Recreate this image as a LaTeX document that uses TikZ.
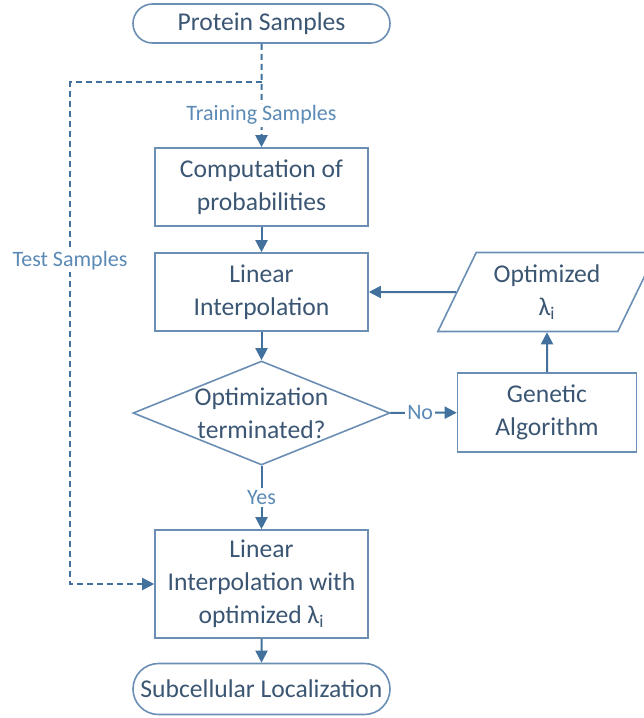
\documentclass[tikz,border=0pt]{standalone}
\usepackage{fontspec}
\setmainfont{Carlito}
\usetikzlibrary{arrows.meta,shapes.geometric,shapes.misc}
\definecolor{linecol}{HTML}{41719C}
\definecolor{boxcol}{HTML}{6A8EB4}
\definecolor{textcol}{HTML}{3B5673}
\definecolor{labelcol}{HTML}{5B8AB6}

\begin{document}
\begin{tikzpicture}[x=0.5pt,y=-0.5pt,
  every node/.style={font=\fontsize{12.8}{16.5}\selectfont,text=textcol,align=center},
  procbox/.style={draw=boxcol,line width=0.8pt,rectangle,minimum width=106.5pt,minimum height=39pt,inner sep=0pt},
  termbox/.style={draw=boxcol,line width=0.8pt,rounded rectangle,minimum width=128.5pt,inner sep=0pt},
  decision/.style={draw=boxcol,line width=0.8pt,diamond,minimum width=128.5pt,minimum height=52pt,inner sep=0pt},
  datbox/.style={draw=boxcol,line width=0.8pt,trapezium,trapezium left angle=63,trapezium right angle=117,
    trapezium stretches=true,minimum width=109.5pt,minimum height=39.5pt,inner sep=1pt},
  flowarrow/.style={draw=linecol,line width=1pt,-{Triangle[length=6pt,width=6pt]}},
  dasharrow/.style={flowarrow,dash pattern=on 3pt off 2pt},
  edgelbl/.style={font=\fontsize{11}{13}\selectfont,text=labelcol,fill=white,inner sep=1pt}]
  % bounding box of the whole figure
  \useasboundingbox (0,0) rectangle (643,718);
  % main column
  \node[termbox,minimum height=19.5pt] (prot) at (261.5,23.5) {Protein Samples};
  \node[procbox] (comp) at (261.5,187) {Computation of\\probabilities};
  \node[procbox] (lin) at (261.5,292) {Linear\\Interpolation};
  \node[decision] (opt) at (261.5,413) {};
  \node (opttext) at (opt) {Optimization\\terminated?};
  \node[procbox,minimum height=54pt] (final) at (261.5,584) {Linear\\Interpolation with\\optimized λ\textsubscript{i}};
  \node[termbox,minimum height=25.5pt] (loc) at (261.5,689) {Subcellular Localization};
  % loop on the right
  \node[procbox,minimum width=89.5pt,minimum height=39.5pt] (gen) at (547,412.5) {Genetic\\Algorithm};
  \node[datbox] (para) at (547,292) {Optimized\\λ\textsubscript{i}};
  % splitting of samples
  \coordinate (split) at (261.5,82);
  \coordinate (tleft) at (70,82);
  \draw[dasharrow] (prot) -- node[edgelbl,pos=0.69] {Training Samples} (comp);
  \draw[dasharrow] (split) -- (tleft) |- node[edgelbl,pos=0.178] {Test Samples} (final);
  % arrows
  \draw[flowarrow] (comp) -- (lin);
  \draw[flowarrow] (lin) -- (opt);
  \draw[flowarrow] (opt) -- node[edgelbl,pos=0.45] {No} (gen);
  \draw[flowarrow] (opt) -- node[edgelbl] {Yes} (final);
  \draw[flowarrow] (final) -- (loc);
  \draw[flowarrow] (gen) -- (para);
  \draw[flowarrow] (para) -- (lin);
\end{tikzpicture}
\end{document}
